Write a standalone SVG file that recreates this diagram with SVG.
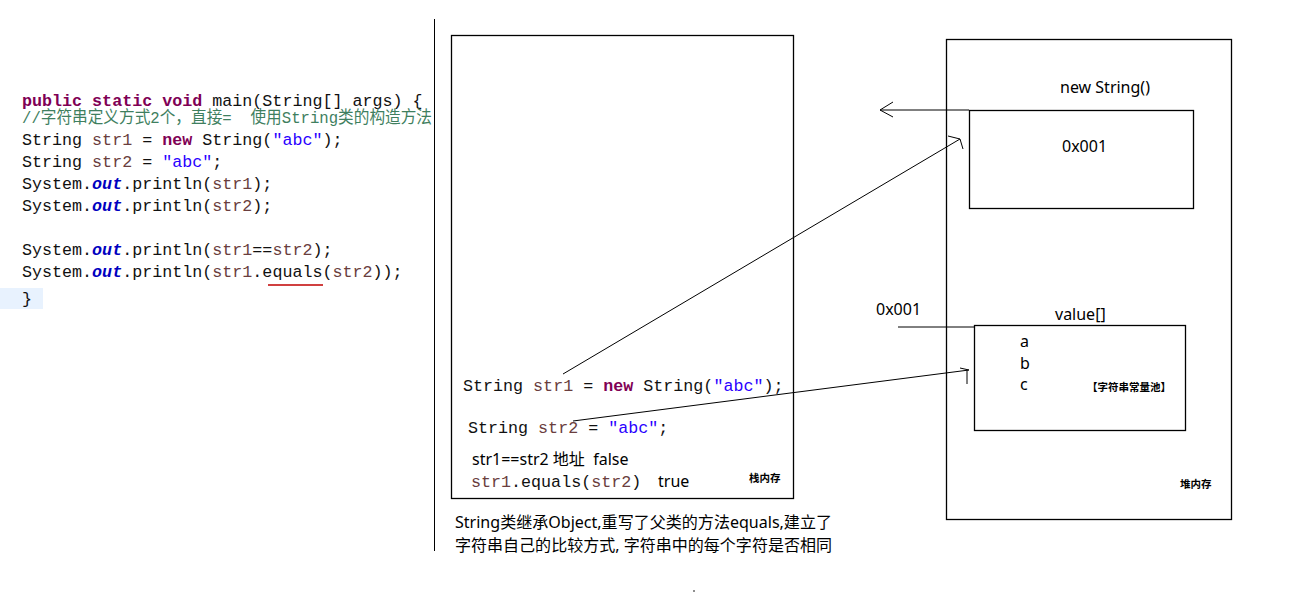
<svg xmlns="http://www.w3.org/2000/svg" width="1299" height="603" viewBox="0 0 1299 603">
<style>
.bg{fill:#fff}
.box{fill:none;stroke:#000;stroke-width:1.3}
.ln{fill:none;stroke:#000;stroke-width:1}
.code{font-family:"Liberation Mono","Noto Sans CJK SC",monospace;font-size:16.7px;fill:#111}
.kw{fill:#7f0055;font-weight:bold}
.st{fill:#2a00ff}
.var{fill:#6a3e3e}
.out{fill:#0000c0;font-weight:bold;font-style:italic}
.cm{fill:#3f7f5f}
.sans{font-family:"Noto Sans","Noto Sans CJK SC",sans-serif;font-size:16px;fill:#000}
.small{font-family:"Noto Sans CJK SC",sans-serif;font-size:10.5px;font-weight:bold;fill:#000}
</style>
<rect class="bg" x="0" y="0" width="1299" height="603"/>

<g id="code">
  <rect x="0" y="288" width="43" height="21" fill="#e8f2fe"/>
  <text class="code" x="22" y="106"><tspan class="kw">public static void</tspan> main(String[] args) {</text>
  <text class="code cm" x="22" y="123" font-size="15" textLength="410" lengthAdjust="spacingAndGlyphs" xml:space="preserve">//字符串定义方式2个，直接=  使用String类的构造方法</text>
  <text class="code" x="22" y="145">String <tspan class="var">str1</tspan> = <tspan class="kw">new</tspan> String(<tspan class="st">"abc"</tspan>);</text>
  <text class="code" x="22" y="167">String <tspan class="var">str2</tspan> = <tspan class="st">"abc"</tspan>;</text>
  <text class="code" x="22" y="189">System.<tspan class="out">out</tspan>.println(<tspan class="var">str1</tspan>);</text>
  <text class="code" x="22" y="211">System.<tspan class="out">out</tspan>.println(<tspan class="var">str2</tspan>);</text>
  <text class="code" x="22" y="255">System.<tspan class="out">out</tspan>.println(<tspan class="var">str1</tspan>==<tspan class="var">str2</tspan>);</text>
  <text class="code" x="22" y="277">System.<tspan class="out">out</tspan>.println(<tspan class="var">str1</tspan>.equals(<tspan class="var">str2</tspan>));</text>
  <line x1="268" y1="285" x2="323" y2="285" stroke="#c00000" stroke-width="1.3"/>
  <text class="code" x="22" y="304">}</text>
</g>

<line class="ln" x1="434.5" y1="19" x2="434.5" y2="551" stroke-width="1.3"/>

<g id="stack">
  <rect class="box" x="451.5" y="35.5" width="342" height="463"/>
  <text class="code" x="463" y="391" font-size="16.4">String <tspan class="var">str1</tspan> = <tspan class="kw">new</tspan> String(<tspan class="st">"abc"</tspan>);</text>
  <text class="code" x="468" y="433" font-size="16.4">String <tspan class="var">str2</tspan> = <tspan class="st">"abc"</tspan>;</text>
  <text class="sans" x="472" y="465" xml:space="preserve">str1==str2 地址  false</text>
  <text class="code" x="471" y="487" font-size="16.4"><tspan class="var">str1</tspan>.equals(<tspan class="var">str2</tspan>)</text>
  <text class="sans" x="658" y="487">true</text>
  <text class="small" x="749" y="482">栈内存</text>
</g>

<g id="note">
  <text class="sans" x="455" y="528" textLength="377" lengthAdjust="spacingAndGlyphs">String类继承Object,重写了父类的方法equals,建立了</text>
  <text class="sans" x="455" y="551" textLength="377" lengthAdjust="spacingAndGlyphs">字符串自己的比较方式, 字符串中的每个字符是否相同</text>
</g>

<g id="heap">
  <rect class="box" x="946.5" y="39.5" width="285" height="480"/>
  <text class="sans" x="1060" y="93">new String()</text>
  <text class="small" x="1180" y="488">堆内存</text>
</g>

<g id="stringObject">
  <rect class="box" x="969.5" y="110.5" width="224" height="98"/>
  <text class="sans" x="1062" y="152">0x001</text>
</g>

<g id="valueArray">
  <rect class="box" x="974.5" y="325.5" width="211" height="105"/>
  <text class="sans" x="1055" y="320">value[]</text>
  <text class="sans" x="1020" y="347">a</text>
  <text class="sans" x="1020" y="369">b</text>
  <text class="sans" x="1020" y="390">c</text>
  <text class="small" x="1087" y="391">【字符串常量池】</text>
</g>

<g id="connectors">
  <polyline class="ln" points="969,110 880,110"/>
  <polyline class="ln" points="893,102 880,110 893,117"/>
  <line class="ln" x1="563" y1="374" x2="960" y2="139"/>
  <polyline class="ln" points="948,136 960,139 963,149"/>
  <line class="ln" x1="573" y1="421" x2="969" y2="370"/>
  <polyline class="ln" points="960,368 969,370"/>
  <line class="ln" x1="967" y1="370" x2="967" y2="384"/>
  <line class="ln" x1="898" y1="327" x2="975" y2="327"/>
  <text class="sans" x="876" y="315">0x001</text>
</g>
<circle cx="694" cy="591" r="0.8" fill="#000"/>
</svg>
